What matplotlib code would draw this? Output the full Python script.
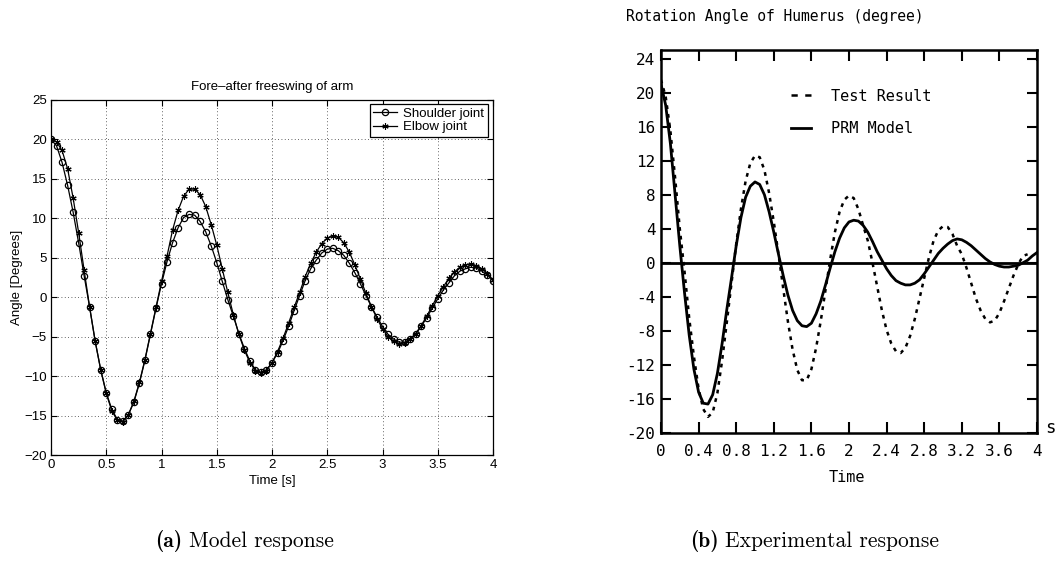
import numpy as np
import matplotlib
matplotlib.use("Agg")
import matplotlib.pyplot as plt
from matplotlib.lines import Line2D

# ---- (a) model response: sampled every 0.05 s ----
t_model = np.arange(81) * 0.05
shoulder = [20.0, 19.2, 17.1, 14.2, 10.8, 6.9, 2.7, -1.3, -5.6, -9.2,
            -12.1, -14.2, -15.5, -15.7, -14.9, -13.3, -10.9, -8.0, -4.7, -1.4,
            1.7, 4.5, 6.9, 8.8, 10.1, 10.5, 10.4, 9.6, 8.3, 6.5,
            4.4, 2.0, -0.3, -2.4, -4.6, -6.5, -8.1, -9.2, -9.5, -9.2,
            -8.3, -7.1, -5.5, -3.7, -1.7, 0.2, 2.1, 3.6, 4.7, 5.6,
            6.1, 6.2, 5.9, 5.3, 4.3, 3.1, 1.7, 0.2, -1.2, -2.5,
            -3.7, -4.7, -5.3, -5.7, -5.7, -5.3, -4.7, -3.7, -2.6, -1.4,
            -0.2, 0.9, 1.8, 2.7, 3.3, 3.6, 3.8, 3.7, 3.3, 2.8,
            2.1]
elbow = [20.0, 19.7, 18.6, 16.3, 12.6, 8.2, 3.4, -1.3, -5.6, -9.2,
         -12.2, -14.4, -15.6, -15.8, -14.9, -13.2, -10.8, -7.9, -4.6, -1.3,
         2.0, 5.2, 8.5, 11.0, 12.8, 13.7, 13.7, 13.0, 11.5, 9.2,
         6.6, 3.6, 0.6, -2.2, -4.7, -6.7, -8.3, -9.3, -9.6, -9.3,
         -8.3, -6.9, -5.2, -3.3, -1.3, 0.6, 2.6, 4.3, 5.7, 6.8,
         7.5, 7.8, 7.6, 6.9, 5.7, 4.1, 2.3, 0.5, -1.2, -2.7,
         -4.0, -5.0, -5.6, -5.9, -5.8, -5.3, -4.6, -3.6, -2.4, -1.1,
         0.2, 1.3, 2.4, 3.2, 3.8, 4.1, 4.2, 4.0, 3.6, 3.0,
         2.2]

# ---- (b) experimental response ----
t_prm = np.arange(81) * 0.05
prm = [21.0, 18.5, 14.0, 8.0, 2.0, -3.5, -8.5, -12.5, -15.2, -16.5,
       -16.6, -15.5, -13.0, -9.5, -5.5, -1.8, 2.0, 5.3, 7.7, 9.0,
       9.5, 9.2, 8.0, 6.0, 3.6, 1.0, -1.5, -3.8, -5.6, -6.8,
       -7.4, -7.5, -7.1, -6.0, -4.5, -2.6, -0.6, 1.3, 2.9, 4.1,
       4.8, 5.0, 4.9, 4.4, 3.6, 2.5, 1.3, 0.3, -0.7, -1.5,
       -2.1, -2.4, -2.6, -2.6, -2.4, -2.0, -1.3, -0.5, 0.3, 1.1,
       1.7, 2.2, 2.6, 2.8, 2.7, 2.4, 2.0, 1.5, 1.0, 0.5,
       0.1, -0.2, -0.4, -0.5, -0.5, -0.4, -0.3, 0.0, 0.3, 0.8,
       1.2]
t_test = np.arange(79) * 0.05
test = [21.5, 19.5, 15.5, 10.0, 4.0, -1.0, -6.5, -11.0, -14.8, -17.2,
        -18.1, -17.6, -15.3, -11.5, -7.0, -2.4, 2.2, 6.3, 9.6, 11.7,
        12.6, 12.4, 10.9, 8.2, 4.8, 1.0, -3.0, -6.9, -10.2, -12.6,
        -13.8, -13.8, -12.5, -10.0, -6.8, -3.2, 0.4, 3.6, 6.0, 7.4,
        7.9, 7.6, 6.3, 4.4, 2.6, 0.0, -2.8, -5.6, -7.9, -9.5,
        -10.4, -10.6, -10.0, -8.6, -6.6, -4.2, -1.8, 0.6, 2.6, 3.8,
        4.3, 4.2, 3.4, 2.0, 1.0, -0.6, -2.4, -4.2, -5.6, -6.6,
        -7.0, -6.8, -5.9, -4.5, -3.0, -1.5, -0.2, 0.8, 1.0]

xt_b = [0, 0.4, 0.8, 1.2, 1.6, 2.0, 2.4, 2.8, 3.2, 3.6, 4.0]
xl_b = ["0", "0.4", "0.8", "1.2", "1.6", "2", "2.4", "2.8", "3.2", "3.6", "4"]
yt_b = [-20, -16, -12, -8, -4, 0, 4, 8, 12, 16, 20, 24]
yl_b = ["-20", "-16", "-12", "-8", "-4", "0", "4", "8", "12", "16", "20", "24"]

W, H = 1057, 566
fig = plt.figure(figsize=(W / 100, H / 100), dpi=100)

sans = "Liberation Sans"
mono = "DejaVu Sans Mono"
fs = 9.5

# left panel, matlab style
ax1 = fig.add_axes([51 / W, 1 - 455 / H, 442 / W, 355 / H])
ax1.plot(t_model, shoulder, color="black", lw=0.9, marker="o", ms=4.5,
         mfc="none", mew=0.9, label="Shoulder joint")
ax1.plot(t_model, elbow, color="black", lw=0.9, marker=(6, 2, 0), ms=4.5,
         mew=0.8, label="Elbow joint")
ax1.set_xlim(0, 4)
ax1.set_ylim(-20, 25)
ax1.set_xticks(np.arange(0, 4.01, 0.5))
ax1.set_xticklabels(["0", "0.5", "1", "1.5", "2", "2.5", "3", "3.5", "4"])
ax1.set_yticks(np.arange(-20, 26, 5))
ax1.grid(True, linestyle=(0, (1, 3)), color="#333333", lw=0.6)
ax1.tick_params(direction="in", length=4, width=0.8, top=True, right=True,
                labelsize=fs, pad=3)
for lab in ax1.get_xticklabels() + ax1.get_yticklabels():
    lab.set_family(sans)
for s in ax1.spines.values():
    s.set_linewidth(0.9)
ax1.set_title("Fore\u2013after freeswing of arm", family=sans, fontsize=fs, pad=7)
ax1.set_xlabel("Time [s]", family=sans, fontsize=fs, labelpad=3)
ax1.set_ylabel("Angle [Degrees]", family=sans, fontsize=fs, labelpad=1)
leg1 = ax1.legend(loc="upper right", bbox_to_anchor=(0.988, 0.988),
                  prop={"family": sans, "size": fs}, fancybox=False,
                  framealpha=1, edgecolor="black", handlelength=1.8,
                  borderpad=0.25, labelspacing=0.1, handletextpad=0.5,
                  borderaxespad=0)
leg1.get_frame().set_linewidth(0.9)

# right panel, old plotter style
ax2 = fig.add_axes([661 / W, 1 - 433 / H, 376 / W, 383 / H])
ax2.axhline(0, color="black", lw=2)
ax2.plot(t_test, test, color="black", lw=1.8, linestyle=(0, (1.5, 2.0)),
         label="Test Result")
ax2.plot(t_prm, prm, color="black", lw=2.0, label="PRM Model")
ax2.set_xlim(0, 4)
ax2.set_ylim(-20, 25)
ax2.set_xticks(xt_b)
ax2.set_xticklabels(xl_b, family=mono, fontsize=11.5)
ax2.set_yticks(yt_b)
ax2.set_yticklabels(yl_b, family=mono, fontsize=11.5)
ax2.tick_params(axis="x", direction="in", length=8, width=1.5, top=True, pad=8)
ax2.tick_params(axis="y", direction="in", length=7, width=1.5, right=True, pad=4)
for s in ax2.spines.values():
    s.set_linewidth(1.8)
leg2 = ax2.legend(handles=[Line2D([], [], color="black", lw=1.8, linestyle=(0, (2.5, 3))),
                           Line2D([], [], color="black", lw=2.0)],
                  labels=["Test Result", "PRM Model"],
                  loc="upper left", bbox_to_anchor=(0.31, 0.935), frameon=False,
                  prop={"family": mono, "size": 11}, handlelength=1.3,
                  handletextpad=1.3, labelspacing=1.15)

fig.text(626 / W, 1 - 17 / H, "Rotation Angle of Humerus (degree)", family=mono,
         fontsize=10.5, ha="left", va="center")
fig.text(847 / W, 1 - 478 / H, "Time", family=mono, fontsize=11, ha="center", va="center")
fig.text(1050 / W, 1 - 428 / H, "s", family=mono, fontsize=12.5, ha="center", va="center")

# sub-figure captions
cap = 15.5
fig.text(155 / W, 1 - 541 / H, "(a)", family="cmb10", fontsize=cap, ha="left", va="center")
fig.text(189 / W, 1 - 541 / H, "Model response", family="cmr10", fontsize=cap,
         ha="left", va="center")
fig.text(690 / W, 1 - 541 / H, "(b)", family="cmb10", fontsize=cap, ha="left", va="center")
fig.text(725 / W, 1 - 541 / H, "Experimental response", family="cmr10", fontsize=cap,
         ha="left", va="center")

fig.savefig("out.png", dpi=100)
